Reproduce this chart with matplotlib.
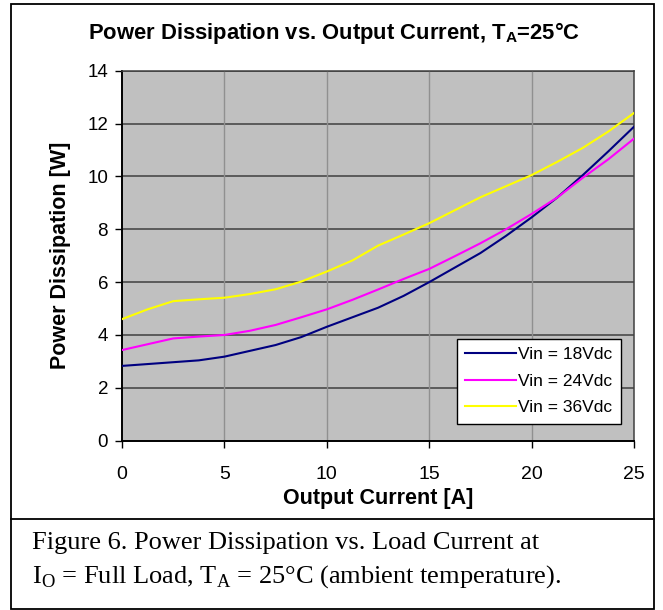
import matplotlib
matplotlib.use("Agg")
import matplotlib.pyplot as plt
from matplotlib.patches import Rectangle
from matplotlib.lines import Line2D

# output current [A]
current = [0, 1.25, 2.5, 3.75, 5, 6.25, 7.5, 8.75, 10, 11.25, 12.5,
           13.75, 15, 16.25, 17.5, 18.75, 20, 21.25, 22.5, 23.75, 25]
# power dissipation [W]
p_18v = [2.83, 2.90, 2.97, 3.04, 3.18, 3.40, 3.62, 3.92, 4.31, 4.67, 5.03,
         5.48, 6.00, 6.55, 7.10, 7.75, 8.45, 9.20, 10.05, 10.95, 11.88]
p_24v = [3.43, 3.65, 3.87, 3.94, 4.00, 4.16, 4.38, 4.67, 4.97, 5.33, 5.72,
         6.12, 6.50, 6.98, 7.47, 8.00, 8.58, 9.20, 9.95, 10.65, 11.43]
p_36v = [4.60, 4.97, 5.28, 5.35, 5.41, 5.55, 5.73, 6.02, 6.40, 6.82, 7.38,
         7.80, 8.23, 8.72, 9.21, 9.63, 10.05, 10.55, 11.08, 11.70, 12.40]

x_ticks = [0, 5, 10, 15, 20, 25]
y_ticks = [0, 2, 4, 6, 8, 10, 12, 14]

plt.rcParams['font.family'] = ['Liberation Sans', 'DejaVu Sans']

W, H = 663, 610
fig = plt.figure(figsize=(W / 100, H / 100), dpi=100)
fig.set_facecolor("white")

ax = fig.add_axes([122 / W, 1 - 440.7 / H, 512 / W, 370 / H])
ax.set_facecolor("#C0C0C0")

ax.plot(current, p_18v, color="#000080", lw=1.5, label="Vin = 18Vdc", zorder=3)
ax.plot(current, p_24v, color="#FF00FF", lw=1.5, label="Vin = 24Vdc", zorder=3)
ax.plot(current, p_36v, color="#FFFF00", lw=1.5, label="Vin = 36Vdc", zorder=3)

ax.set_xlim(0, 25)
ax.set_ylim(0, 14)
ax.set_xticks(x_ticks)
ax.set_yticks(y_ticks)
ax.tick_params(axis="both", direction="out", length=5, width=1, color="black",
               labelsize=14)
ax.tick_params(axis="x", pad=13)
ax.tick_params(axis="y", pad=5, labelsize=13.5)

# Excel style grid: dark horizontal, light vertical
for y in y_ticks[1:]:
    ax.axhline(y, color="#404040", lw=1.1, zorder=1)
for x in x_ticks[1:-1]:
    ax.axvline(x, color="#909090", lw=1.0, zorder=1)

for s in ["left", "bottom"]:
    ax.spines[s].set_color("black")
    ax.spines[s].set_linewidth(1.4)
for s in ["top", "right"]:
    ax.spines[s].set_color("#404040")
    ax.spines[s].set_linewidth(1.1)

ax.set_xlabel("Output Current [A]", fontsize=15.5, fontweight="bold", labelpad=4)
ax.set_ylabel("Power Dissipation [W]", fontsize=15.5, fontweight="bold", labelpad=12)

leg = ax.legend(loc="lower right", bbox_to_anchor=(0.975, 0.045), fontsize=12.5,
                frameon=True, fancybox=False, framealpha=1, edgecolor="black",
                handlelength=2.9, handletextpad=0.15, borderpad=0.5,
                labelspacing=0.65, borderaxespad=0)
leg.get_frame().set_linewidth(1.0)

fig.text(334 / W, 1 - 33 / H,
         r"Power Dissipation vs. Output Current, T$_\mathregular{A}$=25°C",
         ha="center", va="center", fontsize=15.8, fontweight="bold")

# outer boxes
fig.patches.append(Rectangle((11 / W, 1 - 609 / H), 643 / W, 605 / H,
                             transform=fig.transFigure, fill=False,
                             edgecolor="black", lw=1.3))
fig.lines.append(Line2D([11 / W, 654 / W], [1 - 519 / H, 1 - 519 / H],
                        transform=fig.transFigure, color="black", lw=1.3))

cap = dict(fontsize=19, family="Liberation Serif", ha="left", va="baseline")
fig.text(32 / W, 1 - 549 / H,
         "Figure 6. Power Dissipation vs. Load Current at", **cap)
fig.text(32 / W, 1 - 583 / H,
         r"I$_\mathregular{O}$ = Full Load, T$_\mathregular{A}$ = 25°C (ambient temperature).",
         **cap)

fig.savefig("out.png", dpi=100)
